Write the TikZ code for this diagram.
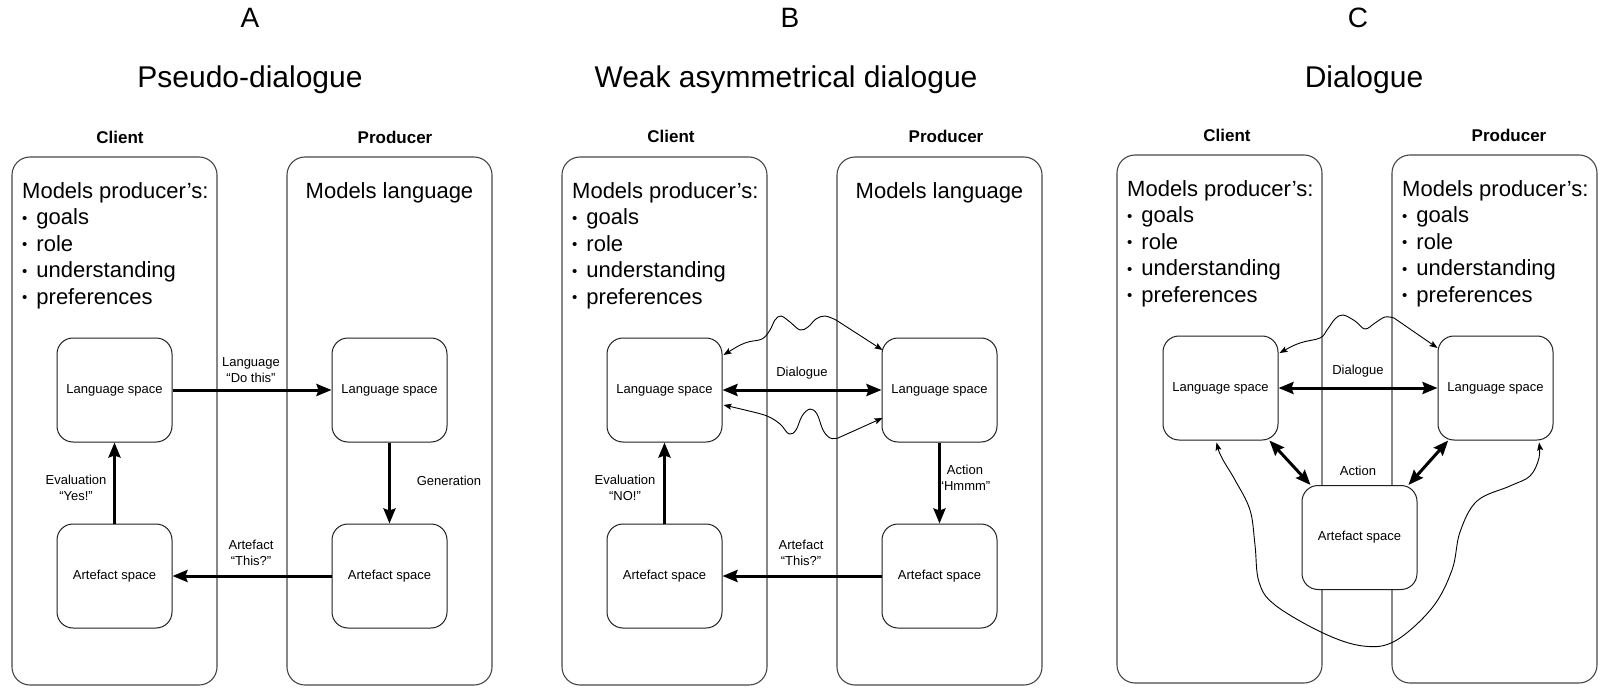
\documentclass[tikz,border=0pt]{standalone}
\usepackage{fontspec}
\setmainfont{Liberation Sans}
\usetikzlibrary{arrows.meta,calc}
\newcommand{\smbul}{\raisebox{1.2pt}{\fontsize{15}{15}\selectfont•}\hspace{9pt}}
\begin{document}
\begin{tikzpicture}[x=1pt,y=-1pt,
  outerbox/.style={draw=black!72, line width=1.1pt, rounded corners=18pt, minimum width=205pt, minimum height=528pt, inner sep=0pt},
  spacebox/.style={draw=black!88, line width=1pt, rounded corners=16pt, minimum width=115pt, minimum height=104pt, inner sep=0pt, fill=white, font=\fontsize{13}{16}\selectfont},
  smalllabel/.style={font=\fontsize{13}{16}\selectfont, align=center, inner sep=0pt},
  bodytext/.style={font=\fontsize{22}{26.5}\selectfont, align=left, inner sep=0pt, anchor=north west},
  centertext/.style={font=\fontsize{22}{26.5}\selectfont, inner sep=0pt, anchor=north},
  roletext/.style={font=\fontsize{17}{20}\selectfont\bfseries, inner sep=0pt},
  titletext/.style={font=\fontsize{30}{36}\selectfont, inner sep=0pt},
  lettertext/.style={font=\fontsize{28}{34}\selectfont, inner sep=0pt},
  thickarrow/.style={line width=3pt, -{Stealth[length=15pt,width=12pt,inset=2pt]}},
  thickboth/.style={line width=3pt, {Stealth[length=15pt,width=12pt,inset=2pt]}-{Stealth[length=15pt,width=12pt,inset=2pt]}},
  thinboth/.style={line width=0.9pt, {Stealth[length=8pt,width=6pt,inset=1.5pt]}-{Stealth[length=8pt,width=6pt,inset=1.5pt]}},
]
\useasboundingbox[fill=white] (0,0) rectangle (1610,698);

% ---------------- Panel A ----------------
\node[lettertext] (letA) at (250,18) {A};
\node[titletext] (titA) at (250,80) {Pseudo-dialogue};
\node[roletext] (rcA) at (120,137) {Client};
\node[roletext] (rpA) at (395,137) {Producer};
\node[outerbox] (cA) at (114.5,421) {};
\node[outerbox] (pA) at (389.5,421) {};
\node[bodytext] (tcA) at (22,182) {Models producer’s:\\\smbul goals\\\smbul role\\\smbul understanding\\\smbul preferences};
\node[centertext] (tpA) at (389.5,182) {Models language};
\node[spacebox] (lcA) at (114.5,390) {Language space};
\node[spacebox] (acA) at (114.5,576) {Artefact space};
\node[spacebox] (lpA) at (389.5,390) {Language space};
\node[spacebox] (apA) at (389.5,576) {Artefact space};
\draw[thickarrow] (lcA.east) -- (lpA.west);
\draw[thickarrow] (lpA.south) -- (apA.north);
\draw[thickarrow] (apA.west) -- (acA.east);
\draw[thickarrow] (acA.north) -- (lcA.south);
\node[smalllabel] (labLA) at (251,370) {Language\\“Do this”};
\node[smalllabel] (labGA) at (449,481) {Generation};
\node[smalllabel] (labEA) at (76,488) {Evaluation\\“Yes!”};
\node[smalllabel] (labAA) at (251,553) {Artefact\\“This?”};

% ---------------- Panel B ----------------
\node[lettertext] (letB) at (790,18) {B};
\node[titletext] (titB) at (786,80) {Weak asymmetrical dialogue};
\node[roletext] (rcB) at (671,136) {Client};
\node[roletext] (rpB) at (946,136) {Producer};
\node[outerbox] (cB) at (664.5,421) {};
\node[outerbox] (pB) at (939.5,421) {};
\node[bodytext] (tcB) at (572,182) {Models producer’s:\\\smbul goals\\\smbul role\\\smbul understanding\\\smbul preferences};
\node[centertext] (tpB) at (939.5,182) {Models language};
\node[spacebox] (lcB) at (664.5,390) {Language space};
\node[spacebox] (acB) at (664.5,576) {Artefact space};
\node[spacebox] (lpB) at (939.5,390) {Language space};
\node[spacebox] (apB) at (939.5,576) {Artefact space};
\draw[thickboth] (lcB.east) -- (lpB.west);
\draw[thickarrow] (lpB.south) -- (apB.north);
\draw[thickarrow] (apB.west) -- (acB.east);
\draw[thickarrow] (acB.north) -- (lcB.south);
\coordinate (bwTs) at ($(lcB.east)+(1,-35)$);
\coordinate (bwTe) at ($(lpB.west)+(1,-40)$);
\coordinate (bwBs) at ($(lcB.east)+(1,15)$);
\coordinate (bwBe) at ($(lpB.west)+(1,28)$);
\draw[thinboth] plot[smooth,tension=0.6] coordinates {(bwTs) (745,343) (762,339) (770,330) (775,320) (781,316) (790,322) (800,330) (808,327) (816,319) (825,316) (836,320)} -- (bwTe);
\draw[thinboth] plot[smooth,tension=0.6] coordinates {(bwBs) (745,410) (767,416) (780,424) (789,434) (796,430) (802,416) (810,409) (817,414) (823,430) (830,438) (838,438)} -- (bwBe);
\node[smalllabel] (labDB) at (802,373) {Dialogue};
\node[smalllabel] (labHB) at (965,478) {Action\\“Hmmm”};
\node[smalllabel] (labEB) at (625,488) {Evaluation\\“NO!”};
\node[smalllabel] (labAB) at (801,553) {Artefact\\“This?”};

% ---------------- Panel C ----------------
\node[lettertext] (letC) at (1358,18) {C};
\node[titletext] (titC) at (1364,80) {Dialogue};
\node[roletext] (rcC) at (1227,135) {Client};
\node[roletext] (rpC) at (1509,135) {Producer};
\node[outerbox] (cC) at (1219.5,419) {};
\node[outerbox] (pC) at (1494.5,419) {};
\node[bodytext] (tcC) at (1127,180) {Models producer’s:\\\smbul goals\\\smbul role\\\smbul understanding\\\smbul preferences};
\node[bodytext] (tpC) at (1402,180) {Models producer’s:\\\smbul goals\\\smbul role\\\smbul understanding\\\smbul preferences};
\node[spacebox] (lcC) at (1220.5,388) {Language space};
\node[spacebox] (rsC) at (1495.5,388) {Language space};
\node[spacebox] (aC) at (1359.5,537.5) {Artefact space};
\draw[thickboth] (lcC.east) -- (rsC.west);
\draw[thickboth] (lcC.-47) -- (aC.133);
\draw[thickboth] (rsC.-132) -- (aC.47);
\coordinate (cwTs) at ($(lcC.east)+(1,-35)$);
\coordinate (cwTe) at ($(rsC.west)+(0,-40)$);
\coordinate (cwLs) at ($(lcC.south)+(-4,2)$);
\coordinate (cwLe) at ($(rsC.south)+(43.5,2)$);
\draw[thinboth] plot[smooth,tension=0.6] coordinates {(cwTs) (1300,343) (1320,338) (1327,330) (1335,319) (1343,315) (1355,321) (1365,329) (1375,323) (1385,317) (1394,318)} -- (cwTe);
\draw[thinboth] plot[smooth,tension=0.6] coordinates {(cwLs) (1222,458) (1235,480) (1250,510) (1255,545) (1259,582) (1275,605) (1323,633) (1363,646) (1395,641) (1432,608) (1452,570) (1460,532) (1477,501) (1510,486) (1530,476) (1539,458) (cwLe)};
\node[smalllabel] (labDC) at (1358,371) {Dialogue};
\node[smalllabel] (labAC) at (1358,471) {Action};
\end{tikzpicture}
\end{document}
